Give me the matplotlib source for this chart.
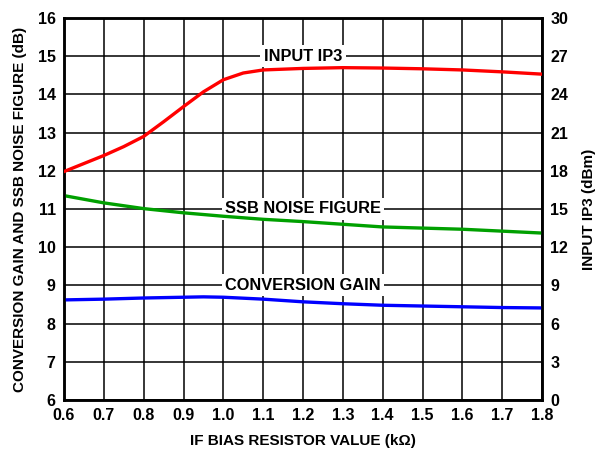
import os
import matplotlib
matplotlib.use("Agg")
import matplotlib.pyplot as plt
from matplotlib import font_manager as fm

plt.rcParams['font.family'] = ['Liberation Sans', 'DejaVu Sans']
plt.rcParams['font.weight'] = 'bold'
plt.rcParams['axes.labelweight'] = 'bold'

# Data
x_ip3 = [0.6, 0.7, 0.75, 0.8, 0.85, 0.9, 0.95, 1.0, 1.05, 1.1, 1.2, 1.3, 1.4, 1.5, 1.6, 1.7, 1.8]
ip3_dbm = [17.94, 19.2, 19.9, 20.7, 21.85, 23.04, 24.2, 25.15, 25.68, 25.92, 26.04, 26.1, 26.07, 26.01, 25.92, 25.77, 25.59]

x_nf = [0.6, 0.7, 0.8, 0.9, 1.0, 1.1, 1.2, 1.3, 1.4, 1.5, 1.6, 1.7, 1.8]
nf_db = [11.35, 11.16, 11.01, 10.9, 10.81, 10.73, 10.67, 10.6, 10.53, 10.5, 10.47, 10.42, 10.37]

x_gain = [0.6, 0.7, 0.8, 0.9, 0.95, 1.0, 1.1, 1.2, 1.3, 1.4, 1.5, 1.6, 1.7, 1.8]
gain_db = [8.62, 8.64, 8.67, 8.69, 8.70, 8.69, 8.64, 8.57, 8.52, 8.48, 8.46, 8.44, 8.42, 8.41]

x_ticks = [0.6, 0.7, 0.8, 0.9, 1.0, 1.1, 1.2, 1.3, 1.4, 1.5, 1.6, 1.7, 1.8]
x_ticklabels = ['0.6', '0.7', '0.8', '0.9', '1.0', '1.1', '1.2', '1.3', '1.4', '1.5', '1.6', '1.7', '1.8']
left_ticks = [6, 7, 8, 9, 10, 11, 12, 13, 14, 15, 16]
right_ticks = [0, 3, 6, 9, 12, 15, 18, 21, 24, 27, 30]

bold_path = '/usr/share/fonts/truetype/liberation/LiberationSans-Bold.ttf'
if os.path.exists(bold_path):
    def fp(size):
        return fm.FontProperties(fname=bold_path, size=size)
else:
    def fp(size):
        return fm.FontProperties(family='Liberation Sans', weight='bold', size=size)

FS = 11
TFS = 11.5

fig = plt.figure(figsize=(5.97, 4.51), dpi=100)
ax = fig.add_axes([0.1072, 0.1131, 0.8007, 0.847])
ax2 = ax.twinx()

ax.set_xlim(0.6, 1.8)
ax.set_ylim(6, 16)
ax2.set_ylim(0, 30)

ax.set_xticks(x_ticks)
ax.set_xticklabels(x_ticklabels)
ax.set_yticks(left_ticks)
ax.set_yticklabels([str(v) for v in left_ticks])
ax2.set_yticks(right_ticks)
ax2.set_yticklabels([str(v) for v in right_ticks])

ax.grid(True, color='black', linewidth=1.1, zorder=0)
ax.set_axisbelow(True)

for a in (ax, ax2):
    a.tick_params(length=0, pad=6)
    for s in a.spines.values():
        s.set_linewidth(1.8)
        s.set_color('black')

box = dict(facecolor='white', edgecolor='none', pad=2.5)
for yv, txt in [(15.0, 'INPUT IP3'), (11.0, 'SSB NOISE FIGURE'), (9.0, 'CONVERSION GAIN')]:
    ax.text(1.2, yv, txt, ha='center', va='center', fontproperties=fp(11.8),
            bbox=box, zorder=2)

ax.plot(x_nf, nf_db, color='#00a000', linewidth=2.4, zorder=3)
ax.plot(x_gain, gain_db, color='#0000ff', linewidth=2.4, zorder=3)
ax2.plot(x_ip3, ip3_dbm, color='#ff0000', linewidth=2.4, zorder=3)

ax.set_xlabel('IF BIAS RESISTOR VALUE (k\u03a9)', labelpad=8)
ax.set_ylabel('CONVERSION GAIN AND SSB NOISE FIGURE (dB)', labelpad=8)
ax2.set_ylabel('INPUT IP3 (dBm)', labelpad=10)

fig.canvas.draw()
for lbl in ax.get_xticklabels() + ax.get_yticklabels() + ax2.get_yticklabels():
    lbl.set_fontproperties(fp(TFS))
for lbl in (ax.xaxis.label, ax.yaxis.label, ax2.yaxis.label):
    lbl.set_fontproperties(fp(FS))

fig.savefig('out.png', dpi=100)
